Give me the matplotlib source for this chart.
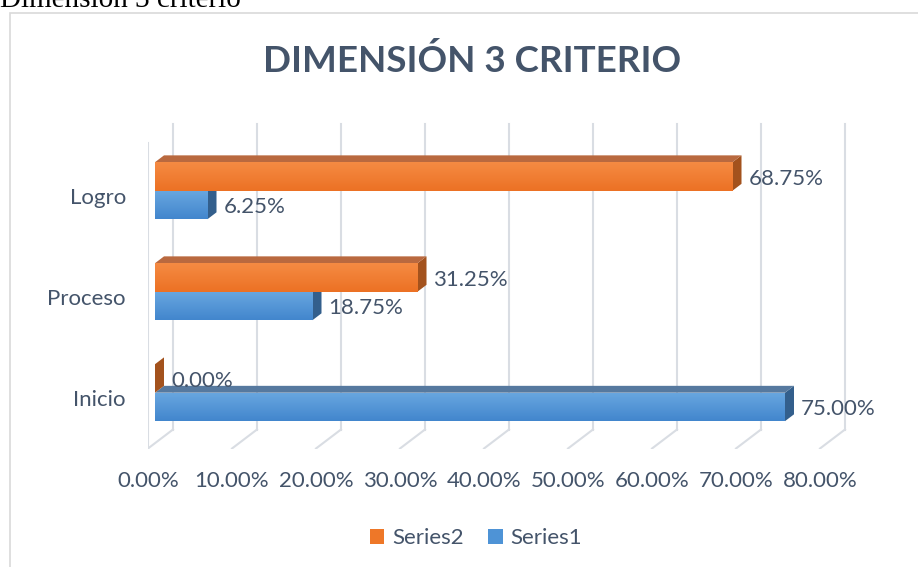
import numpy as np
import matplotlib
matplotlib.use('Agg')
import matplotlib.pyplot as plt
from matplotlib.patches import Polygon, Patch, Rectangle
from matplotlib.colors import to_rgb

plt.rcParams['font.family'] = ['Lato', 'DejaVu Sans']

categories = ['Inicio', 'Proceso', 'Logro']
series1 = [75.00, 18.75, 6.25]
series2 = [0.00, 31.25, 68.75]
xticks = [0, 10, 20, 30, 40, 50, 60, 70, 80]
title = 'DIMENSIÓN 3 CRITERIO'

text_col = '#44546A'
grid_col = '#D9DDE3'
# (front top, front bottom, top face, side face)
orange = ('#F58B43', '#EC7124', '#B9693F', '#A3521D')
blue = ('#69A7E0', '#4286CD', '#56799F', '#335F8C')

# depth of the 3d box, in data units
DX = 25 / 8.4
DY = 19 / 101
T0, T1 = 0.28, 0.64
H = 0.282


def P(x, y, t):
    return (x + t * DX, y + t * DY)


def bar3d(ax, c0, c1, v, cols):
    side = [P(v, c0, T0), P(v, c1, T0), P(v, c1, T1), P(v, c0, T1)]
    top = [P(0, c1, T0), P(v, c1, T0), P(v, c1, T1), P(0, c1, T1)]
    ax.add_patch(Polygon(side, closed=True, facecolor=cols[3], edgecolor='none', zorder=3))
    ax.add_patch(Polygon(top, closed=True, facecolor=cols[2], edgecolor='none', zorder=3))
    left, yb = P(0, c0, T0)
    b = ax.barh(yb + (c1 - c0) / 2, v, height=c1 - c0, left=left,
                color=cols[1], edgecolor='none', zorder=3)[0]
    if v > 0:
        grad = np.linspace(to_rgb(cols[0]), to_rgb(cols[1]), 64).reshape(64, 1, 3)
        im = ax.imshow(grad, extent=[left, left + v, yb, yb + (c1 - c0)],
                       aspect='auto', interpolation='bilinear', zorder=3.5)
        im.set_clip_path(b)


fig = plt.figure(figsize=(9.18, 5.67), dpi=100)

# page caption above the chart (cut off at the top, as in the source page)
fig.text(0, 1 - 7 / 567, 'Dimensión 3 criterio', family='Liberation Serif',
         fontsize=21, color='black', va='baseline', ha='left')
# chart border
fig.add_artist(Rectangle((10 / 918, -0.05), 1.0, 1.05 - 13 / 567,
                         transform=fig.transFigure, fill=False,
                         edgecolor='#D9D9D9', lw=1.2))

xmax = 83.5
ymin, ymax = -0.5, 2.75
ax = fig.add_axes([148 / 918, (567 - 448.5) / 567,
                   xmax * 8.4 / 918, (448.5 - 120.25) / 567])
ax.set_facecolor('none')

# back wall gridlines and floor lines
ytop = 2.52
for x in xticks:
    ax.plot(*zip(P(x, ymin, 1), P(x, ytop, 1)), color=grid_col, lw=1.5, zorder=1)
    ax.plot(*zip(P(x, ymin, 0), P(x, ymin, 1)), color=grid_col, lw=1.5, zorder=1)
ax.plot([0, 0], [ymin, ytop], color=grid_col, lw=1.5, zorder=1)

for i, c in enumerate(range(len(categories))):
    bar3d(ax, c - H, c, series1[i], blue)
    bar3d(ax, c, c + H, series2[i], orange)
    for v, yc in ((series1[i], c - H / 2), (series2[i], c + H / 2)):
        x, y = P(v, yc, T1)
        ax.annotate(f'{v:.2f}%', (x, y - DY * (T1 - T0)), xytext=(5, -1.5),
                    textcoords='offset points', ha='left', va='center',
                    fontsize=16, color=text_col, zorder=5)

ax.set_xlim(0, xmax)
ax.set_ylim(ymin, ymax)
ax.set_xticks(xticks)
ax.set_xticklabels([f'{x:.2f}%' for x in xticks])
ax.set_yticks(range(len(categories)))
ax.set_yticklabels(categories)
ax.tick_params(axis='x', length=0, pad=16, labelsize=16, labelcolor=text_col)
ax.tick_params(axis='y', length=0, pad=16, labelsize=16, labelcolor=text_col)
for s in ax.spines.values():
    s.set_visible(False)

fig.text(472 / 918, 1 - 61 / 567, title, ha='center', va='center',
         fontsize=26.5, fontweight='bold', color=text_col)

handles = [Patch(facecolor='#EE7728', label='Series2'),
           Patch(facecolor='#4E93D6', label='Series1')]
fig.legend(handles=handles, loc='center', bbox_to_anchor=(476 / 918, 1 - 538 / 567),
           ncol=2, frameon=False, fontsize=16, handlelength=0.65, handleheight=0.65,
           handletextpad=0.35, columnspacing=1.1, labelcolor=text_col)

fig.savefig('out.png', dpi=100)
